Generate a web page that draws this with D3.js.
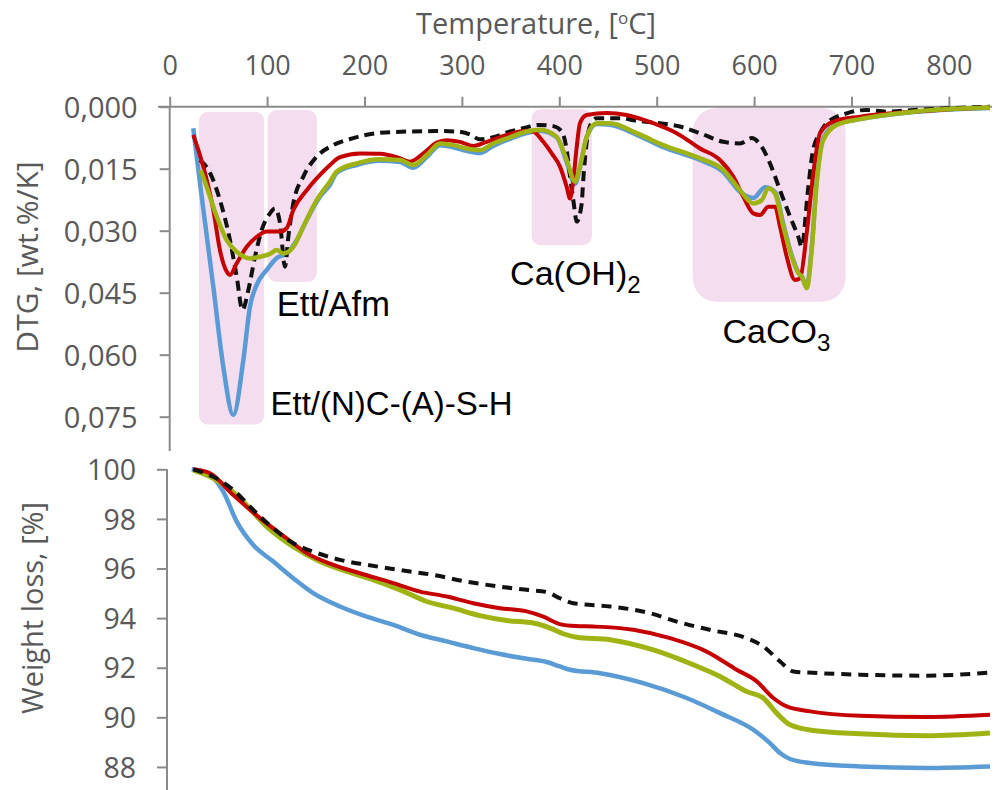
<!DOCTYPE html>
<html><head><meta charset="utf-8">
<script src="https://cdn.jsdelivr.net/npm/d3@7"></script>
<style>body{margin:0;background:#fff}svg{display:block}</style>
</head><body>
<svg id="c" width="996" height="790"></svg>
<script>
// ---------- data ----------
const xTicks = [0,100,200,300,400,500,600,700,800];
const dtgTicks = [0,0.015,0.030,0.045,0.060,0.075];
const wTicks = [88,90,92,94,96,98,100];

// DTG curves: [temperature °C, DTG wt.%/K]
const dtgBlue = [[24.2,0.0052],[31.1,0.0185],[44.8,0.0436],[55.0,0.0629],[65.3,0.0746],[75.6,0.0613],[82.4,0.0484],[89.3,0.0431],[99.6,0.0395],[109.9,0.0366],[120.1,0.0355],[130.4,0.0323],[140.7,0.0274],[154.3,0.0218],[164.6,0.0189],[171.5,0.0160],[192.0,0.0141],[215.9,0.0131],[236.4,0.0134],[250.1,0.0148],[263.9,0.0122],[277.5,0.0093],[291.2,0.0098],[304.9,0.0107],[318.6,0.0112],[332.2,0.0095],[349.4,0.0078],[366.5,0.0064],[380.2,0.0058],[397.3,0.0074],[407.6,0.0134],[416.1,0.0187],[421.2,0.0148],[428.1,0.0074],[438.4,0.0042],[452.1,0.0044],[479.5,0.0068],[506.8,0.0098],[544.5,0.0129],[568.4,0.0158],[585.5,0.0206],[599.2,0.0221],[611.2,0.0195],[621.5,0.0206],[630.0,0.0284],[638.6,0.0359],[645.4,0.0400],[648.9,0.0410],[654.0,0.0434],[659.1,0.0342],[664.3,0.0177],[671.0,0.0076],[684.8,0.0042],[708.7,0.0030],[763.4,0.0013],[842.2,0.0003]];
const dtgRed = [[24.2,0.0068],[34.5,0.0145],[44.8,0.0250],[51.6,0.0347],[58.5,0.0399],[61.9,0.0407],[68.8,0.0379],[79.1,0.0339],[89.3,0.0315],[99.6,0.0302],[113.2,0.0302],[120.1,0.0294],[126.9,0.0250],[140.7,0.0202],[154.3,0.0165],[164.6,0.0141],[174.8,0.0122],[195.4,0.0113],[215.9,0.0114],[233.1,0.0122],[246.7,0.0133],[260.4,0.0113],[274.1,0.0087],[284.4,0.0081],[298.1,0.0085],[311.7,0.0095],[325.5,0.0085],[346.0,0.0068],[366.5,0.0058],[373.3,0.0060],[383.6,0.0085],[392.2,0.0113],[400.7,0.0145],[407.6,0.0194],[411.0,0.0222],[414.4,0.0177],[417.9,0.0097],[421.2,0.0040],[428.1,0.0020],[448.7,0.0015],[469.2,0.0020],[496.5,0.0040],[520.5,0.0064],[544.5,0.0101],[565.0,0.0129],[578.6,0.0169],[589.0,0.0218],[599.2,0.0258],[606.1,0.0262],[614.6,0.0242],[621.5,0.0242],[626.6,0.0290],[633.5,0.0363],[642.0,0.0419],[647.2,0.0415],[654.0,0.0306],[660.8,0.0161],[667.7,0.0064],[681.3,0.0036],[708.7,0.0024],[763.4,0.0012],[842.2,0.0002]];
const dtgGreen = [[31.8,0.0153],[38.0,0.0194],[48.3,0.0266],[58.5,0.0323],[68.8,0.0351],[82.4,0.0367],[92.7,0.0363],[103.0,0.0356],[109.9,0.0347],[116.6,0.0355],[126.9,0.0339],[137.2,0.0290],[150.9,0.0226],[164.6,0.0181],[171.5,0.0157],[192.0,0.0137],[215.9,0.0127],[236.4,0.0129],[250.1,0.0141],[263.9,0.0117],[277.5,0.0089],[291.2,0.0093],[304.9,0.0101],[318.6,0.0105],[332.2,0.0089],[349.4,0.0074],[366.5,0.0060],[380.2,0.0056],[397.3,0.0073],[407.6,0.0129],[416.1,0.0181],[421.2,0.0145],[428.1,0.0073],[438.4,0.0040],[452.1,0.0040],[479.5,0.0064],[506.8,0.0093],[544.5,0.0125],[568.4,0.0153],[585.5,0.0202],[599.2,0.0234],[607.8,0.0226],[614.6,0.0197],[621.5,0.0210],[630.0,0.0290],[638.6,0.0363],[645.4,0.0403],[648.9,0.0411],[654.0,0.0439],[659.1,0.0347],[664.3,0.0185],[671.0,0.0081],[684.8,0.0044],[708.7,0.0030],[763.4,0.0012],[842.2,0.0002]];
const dtgBlack = [[31.1,0.0129],[41.4,0.0160],[51.6,0.0226],[61.9,0.0323],[68.8,0.0411],[74.7,0.0492],[80.7,0.0444],[87.6,0.0363],[94.5,0.0298],[103.0,0.0258],[108.1,0.0246],[113.2,0.0281],[118.4,0.0387],[121.8,0.0315],[126.9,0.0234],[137.2,0.0169],[150.9,0.0121],[168.0,0.0093],[188.5,0.0076],[212.5,0.0064],[246.7,0.0060],[277.5,0.0059],[294.7,0.0060],[308.3,0.0067],[318.6,0.0079],[332.2,0.0074],[349.4,0.0060],[366.5,0.0050],[378.4,0.0044],[393.8,0.0047],[402.5,0.0060],[407.6,0.0105],[411.0,0.0169],[414.4,0.0226],[417.9,0.0278],[423.0,0.0234],[424.6,0.0177],[428.4,0.0081],[433.5,0.0037],[438.4,0.0028],[462.3,0.0028],[479.5,0.0034],[503.4,0.0040],[523.9,0.0048],[544.5,0.0064],[568.4,0.0085],[585.5,0.0089],[597.5,0.0076],[607.8,0.0097],[616.3,0.0137],[626.6,0.0202],[636.9,0.0266],[645.4,0.0315],[648.9,0.0339],[655.3,0.0202],[660.5,0.0105],[667.7,0.0064],[674.5,0.0040],[695.1,0.0016],[715.6,0.0008],[736.1,0.0012],[763.4,0.0008],[797.7,0.0004],[842.2,0.0000]];

// Weight loss curves: [temperature °C, weight %]
const wBlue = [[22.6,100.0],[41.4,99.77],[55.0,99.10],[68.8,97.89],[85.8,96.95],[106.4,96.28],[126.9,95.61],[147.4,95.01],[174.8,94.47],[202.3,94.06],[229.6,93.73],[257.0,93.33],[284.4,93.06],[311.7,92.79],[339.1,92.55],[366.5,92.36],[387.1,92.23],[400.7,92.05],[411.0,91.92],[441.8,91.78],[486.2,91.38],[530.8,90.78],[565.0,90.17],[599.2,89.50],[616.3,88.96],[626.6,88.56],[636.9,88.32],[657.4,88.16],[708.7,88.02],[777.2,87.96],[842.2,88.02]];
const wRed = [[24.2,100.0],[41.4,99.84],[65.3,98.96],[92.7,98.03],[120.1,97.22],[140.7,96.62],[168.0,96.15],[195.4,95.81],[229.6,95.41],[257.0,95.07],[284.4,94.87],[311.7,94.60],[339.1,94.40],[366.5,94.27],[383.6,94.06],[400.7,93.76],[417.1,93.68],[434.9,93.66],[476.0,93.53],[513.7,93.19],[551.3,92.65],[582.1,91.92],[602.7,91.45],[619.7,90.78],[633.5,90.44],[657.4,90.24],[708.7,90.06],[777.2,90.01],[842.2,90.10]];
const wGreen = [[24.2,99.97],[44.8,99.64],[68.8,98.96],[99.6,97.69],[126.9,96.88],[154.3,96.28],[181.7,95.88],[209.0,95.54],[236.4,95.14],[263.9,94.67],[291.2,94.40],[318.6,94.10],[346.0,93.90],[373.3,93.80],[390.5,93.60],[404.1,93.37],[417.9,93.23],[452.1,93.13],[496.5,92.72],[537.6,92.12],[565.0,91.65],[592.4,91.04],[609.4,90.78],[623.2,90.17],[636.9,89.70],[660.8,89.47],[708.7,89.34],[777.2,89.26],[842.2,89.37]];
const wBlack = [[24.2,100.0],[44.8,99.70],[65.3,99.17],[85.8,98.36],[106.4,97.62],[126.9,97.02],[147.4,96.68],[174.8,96.35],[202.3,96.15],[236.4,95.94],[270.6,95.74],[304.9,95.47],[339.1,95.27],[366.5,95.14],[387.1,95.05],[400.7,94.80],[414.4,94.60],[452.1,94.47],[493.1,94.20],[520.5,93.86],[554.4,93.53],[592.4,93.19],[609.4,92.86],[626.6,92.25],[640.3,91.85],[667.7,91.78],[708.7,91.72],[777.2,91.68],[842.2,91.81]];

// ---------- chart ----------
const svg = d3.select('#c');
const axisCol = '#8a8a8a', txtCol = '#595959';
const FONT = "'Open Sans', sans-serif";
const LFONT = "'Liberation Sans', Arial, sans-serif";

const x = d3.scaleLinear().domain([0, 842.2]).range([169.7, 990]);
const yD = d3.scaleLinear().domain([0, 0.0833]).range([106.7, 451]);
const yW = d3.scaleLinear().domain([87.07, 100]).range([790, 469.3]);

const C = {blue:'#5b9bd5', red:'#c40000', green:'#9fb414', black:'#111'};

// shaded regions
const pink = '#f5ddf0';
const regions = [
  {t0:30, t1:97, v0:0.0012, v1:0.0769, r:9},
  {t0:100.6, t1:151, v0:0.0008, v1:0.0424, r:9},
  {t0:371.6, t1:433.5, v0:0.0006, v1:0.0335, r:9},
  {t0:537, t1:694, v0:0.0003, v1:0.0472, r:24}
];
svg.append('g').selectAll('rect').data(regions).join('rect')
  .attr('x', d => x(d.t0)).attr('width', d => x(d.t1) - x(d.t0))
  .attr('y', d => yD(d.v0)).attr('height', d => yD(d.v1) - yD(d.v0))
  .attr('rx', d => d.r).attr('fill', pink);

// axes
const fmt = d3.formatLocale({decimal:',', thousands:'.', grouping:[3], currency:['','']}).format('.3f');

const gx = svg.append('g').attr('transform', `translate(0,${yD(0)})`)
  .call(d3.axisTop(x).tickValues(xTicks).tickSize(10).tickSizeOuter(0).tickPadding(22));
gx.select('.domain').remove();
gx.append('line').attr('x1', 158).attr('x2', 992).attr('stroke', axisCol).attr('stroke-width', 2);

const gy = svg.append('g').attr('transform', `translate(${x(0)},0)`)
  .call(d3.axisLeft(yD).tickValues(dtgTicks).tickFormat(fmt).tickSize(10).tickSizeOuter(0).tickPadding(22));
gy.select('.domain').remove();
gy.append('line').attr('y1', yD(0)).attr('y2', 451).attr('stroke', axisCol).attr('stroke-width', 2);

const gw = svg.append('g').attr('transform', `translate(167,0)`)
  .call(d3.axisLeft(yW).tickValues(wTicks).tickSize(10).tickSizeOuter(0).tickPadding(21));
gw.select('.domain').remove();
gw.append('line').attr('y1', yW(100)).attr('y2', 790).attr('stroke', axisCol).attr('stroke-width', 2);

[gx, gy, gw].forEach(g => {
  g.selectAll('.tick line').attr('stroke', axisCol).attr('stroke-width', 2);
  g.selectAll('.tick text').attr('fill', txtCol).style('font-family', FONT).style('font-size', '27px');
});
gy.selectAll('.tick text').attr('dy', '0.36em').style('font-size', '29px');
gw.selectAll('.tick text').attr('dy', '0.36em').style('font-size', '28.5px');

// titles
const tt = svg.append('text').attr('x', 536).attr('y', 34).attr('text-anchor', 'middle')
  .attr('fill', txtCol).style('font-family', FONT).style('font-size', '29px');
tt.append('tspan').text('Temperature, [');
tt.append('tspan').text('o').attr('dy', -10).style('font-size', '17px');
tt.append('tspan').text('C]').attr('dy', 10);

svg.append('text').attr('transform', 'translate(38,257) rotate(-90)').attr('text-anchor', 'middle')
  .attr('fill', txtCol).style('font-family', FONT).style('font-size', '30px').text('DTG, [wt.%/K]');
svg.append('text').attr('transform', 'translate(43,608) rotate(-90)').attr('text-anchor', 'middle')
  .attr('fill', txtCol).style('font-family', FONT).style('font-size', '29px').text('Weight loss, [%]');

// lines
const lineD = d3.line().x(d => x(d[0])).y(d => yD(d[1])).curve(d3.curveMonotoneX);
const lineW = d3.line().x(d => x(d[0])).y(d => yW(d[1])).curve(d3.curveMonotoneX);

const dtgSeries = [
  {d: dtgBlue, c: C.blue, w: 4.5},
  {d: dtgBlack, c: C.black, w: 4, dash: '10,6'},
  {d: dtgRed, c: C.red, w: 4},
  {d: dtgGreen, c: C.green, w: 4.5}
];
const wSeries = [
  {d: wBlue, c: C.blue, w: 4.5},
  {d: wGreen, c: C.green, w: 5},
  {d: wRed, c: C.red, w: 4},
  {d: wBlack, c: C.black, w: 4, dash: '10,7'}
];
svg.append('g').selectAll('path').data(dtgSeries).join('path')
  .attr('d', s => lineD(s.d)).attr('fill', 'none').attr('stroke', s => s.c)
  .attr('stroke-width', s => s.w).attr('stroke-dasharray', s => s.dash || null)
  .attr('stroke-linejoin', 'round');
svg.append('g').selectAll('path').data(wSeries).join('path')
  .attr('d', s => lineW(s.d)).attr('fill', 'none').attr('stroke', s => s.c)
  .attr('stroke-width', s => s.w).attr('stroke-dasharray', s => s.dash || null)
  .attr('stroke-linejoin', 'round');

// annotations
function label(xp, yp, size, parts) {
  const t = svg.append('text').attr('x', xp).attr('y', yp).attr('fill', '#000')
    .style('font-family', LFONT).style('font-size', size + 'px');
  parts.forEach(p => {
    const s = t.append('tspan').text(p.t);
    if (p.sub) s.attr('dy', 8).style('font-size', Math.round(size * 0.7) + 'px');
  });
}
label(x(110), 316, 34.5, [{t:'Ett/Afm'}]);
label(x(103.5), 415, 33, [{t:'Ett/(N)C-(A)-S-H'}]);
label(x(349.5), 285, 34, [{t:'Ca(OH)'}, {t:'2', sub:true}]);
label(x(567.5), 343, 34, [{t:'CaCO'}, {t:'3', sub:true}]);
</script>
</body></html>
